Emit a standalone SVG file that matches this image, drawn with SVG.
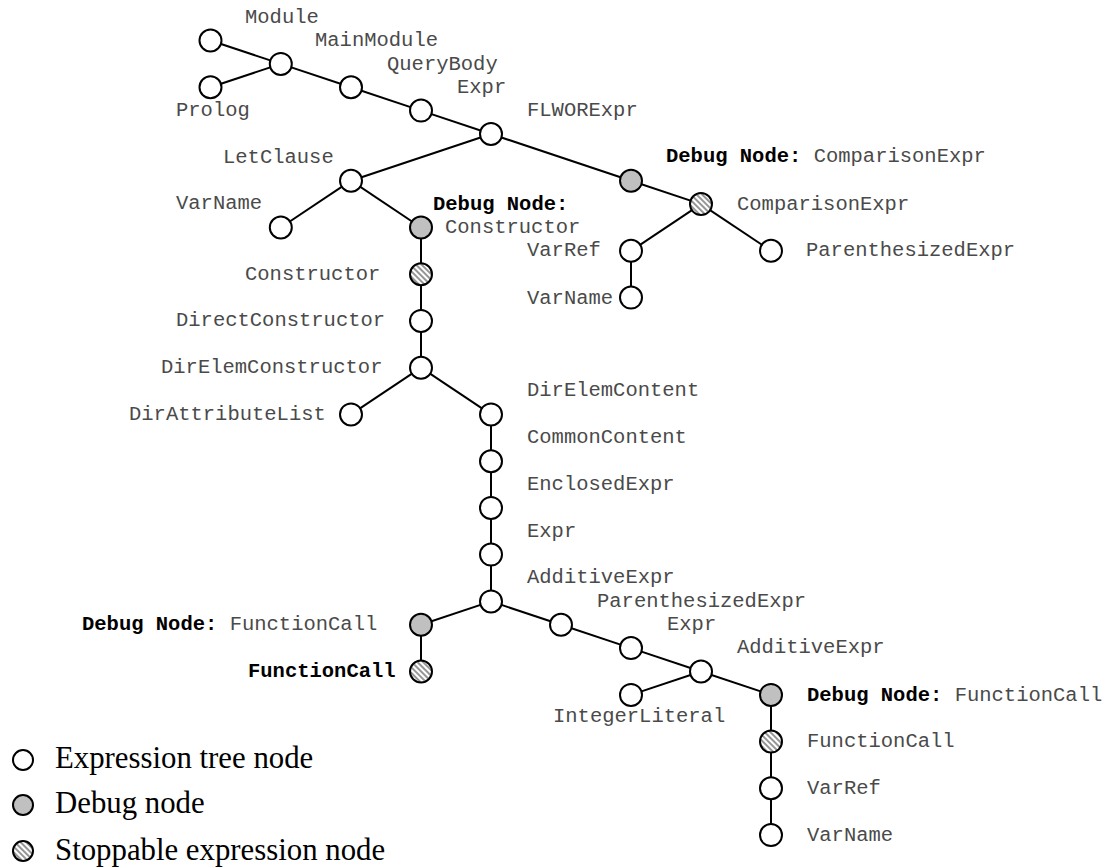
<svg xmlns="http://www.w3.org/2000/svg" width="1110" height="868" viewBox="0 0 1110 868">
  <style>
    .edge { stroke: #000; stroke-width: 2; fill: none; }
    .n { stroke: #000; stroke-width: 2; }
    .expr { fill: #fff; }
    .dbg { fill: #c0c0c0; }
    .stop { fill: url(#hatch); }
    .lbl { font-family: "Liberation Mono", "Courier New", monospace; font-size: 20.5px; fill: #4a4a4a; }
    .b { font-weight: bold; fill: #000; }
    .legend { font-family: "Liberation Serif", "Times New Roman", serif; font-size: 30.8px; fill: #000; }
  </style>
  <defs>
    <pattern id="hatch" patternUnits="userSpaceOnUse" width="4" height="4" patternTransform="rotate(45)">
      <rect width="4" height="4" fill="#fff"/>
      <line x1="0" y1="1" x2="4" y2="1" stroke="#8a8a8a" stroke-width="1.8"/>
    </pattern>
  </defs>

  <rect width="1110" height="868" fill="#fff"/>

  <!-- connectors -->
  <g id="connectors" class="edge">
    <line x1="210.5" y1="40.5" x2="280.8" y2="63.9"/>
    <line x1="210.5" y1="87.2" x2="280.8" y2="63.9"/>
    <line x1="280.8" y1="63.9" x2="351" y2="87.2"/>
    <line x1="351" y1="87.2" x2="421" y2="110.6"/>
    <line x1="421" y1="110.6" x2="491" y2="134"/>
    <line x1="491" y1="134" x2="351" y2="180.7"/>
    <line x1="491" y1="134" x2="631" y2="180.7"/>
    <line x1="351" y1="180.7" x2="280.8" y2="227.5"/>
    <line x1="351" y1="180.7" x2="421" y2="227.5"/>
    <line x1="631" y1="180.7" x2="701" y2="204.1"/>
    <line x1="701" y1="204.1" x2="631" y2="250.8"/>
    <line x1="701" y1="204.1" x2="771" y2="250.8"/>
    <line x1="631" y1="250.8" x2="631" y2="297.6"/>
    <line x1="421" y1="227.5" x2="421" y2="367.7"/>
    <line x1="421" y1="367.7" x2="351" y2="414.4"/>
    <line x1="421" y1="367.7" x2="491" y2="414.4"/>
    <line x1="491" y1="414.4" x2="491" y2="601.4"/>
    <line x1="491" y1="601.4" x2="421" y2="624.8"/>
    <line x1="421" y1="624.8" x2="421" y2="671.5"/>
    <line x1="491" y1="601.4" x2="561" y2="624.8"/>
    <line x1="561" y1="624.8" x2="631" y2="648.1"/>
    <line x1="631" y1="648.1" x2="701" y2="671.5"/>
    <line x1="701" y1="671.5" x2="631" y2="694.9"/>
    <line x1="701" y1="671.5" x2="771" y2="694.9"/>
    <line x1="771" y1="694.9" x2="771" y2="835.1"/>
  </g>

  <!-- tree nodes -->
  <g id="n-module"><circle class="n expr" cx="210.5" cy="40.5" r="11"/><text class="lbl" x="245" y="22.5">Module</text></g>
  <g id="n-prolog"><circle class="n expr" cx="210.5" cy="87.2" r="11"/><text class="lbl" x="176" y="116">Prolog</text></g>
  <g id="n-mainmodule"><circle class="n expr" cx="280.8" cy="63.9" r="11"/><text class="lbl" x="315" y="46">MainModule</text></g>
  <g id="n-querybody"><circle class="n expr" cx="351" cy="87.2" r="11"/><text class="lbl" x="387" y="70">QueryBody</text></g>
  <g id="n-expr1"><circle class="n expr" cx="421" cy="110.6" r="11"/><text class="lbl" x="457" y="93">Expr</text></g>
  <g id="n-flwor"><circle class="n expr" cx="491" cy="134" r="11"/><text class="lbl" x="527" y="116">FLWORExpr</text></g>
  <g id="n-letclause"><circle class="n expr" cx="351" cy="180.7" r="11"/><text class="lbl" x="223" y="163">LetClause</text></g>
  <g id="n-varname1"><circle class="n expr" cx="280.8" cy="227.5" r="11"/><text class="lbl" x="176" y="209">VarName</text></g>
  <g id="n-dbg-constructor"><circle class="n dbg" cx="421" cy="227.5" r="11"/><text class="lbl b" x="433" y="210">Debug Node:</text><text class="lbl" x="445" y="233">Constructor</text></g>
  <g id="n-constructor"><circle class="n stop" cx="421" cy="274.2" r="11"/><text class="lbl" x="245" y="280">Constructor</text></g>
  <g id="n-directconstructor"><circle class="n expr" cx="421" cy="320.9" r="11"/><text class="lbl" x="176" y="326">DirectConstructor</text></g>
  <g id="n-direlemconstructor"><circle class="n expr" cx="421" cy="367.7" r="11"/><text class="lbl" x="161" y="373">DirElemConstructor</text></g>
  <g id="n-dirattributelist"><circle class="n expr" cx="351" cy="414.4" r="11"/><text class="lbl" x="129" y="420">DirAttributeList</text></g>
  <g id="n-direlemcontent"><circle class="n expr" cx="491" cy="414.4" r="11"/><text class="lbl" x="527" y="396">DirElemContent</text></g>
  <g id="n-commoncontent"><circle class="n expr" cx="491" cy="461.2" r="11"/><text class="lbl" x="527" y="443">CommonContent</text></g>
  <g id="n-enclosedexpr"><circle class="n expr" cx="491" cy="507.9" r="11"/><text class="lbl" x="527" y="490">EnclosedExpr</text></g>
  <g id="n-expr2"><circle class="n expr" cx="491" cy="554.6" r="11"/><text class="lbl" x="527" y="537">Expr</text></g>
  <g id="n-additive1"><circle class="n expr" cx="491" cy="601.4" r="11"/><text class="lbl" x="527" y="583">AdditiveExpr</text></g>
  <g id="n-dbg-funccall1"><circle class="n dbg" cx="421" cy="624.8" r="11"/><text class="lbl" x="82" y="630"><tspan class="b">Debug Node:</tspan> FunctionCall</text></g>
  <g id="n-funccall1"><circle class="n stop" cx="421" cy="671.5" r="11"/><text class="lbl b" x="248" y="677">FunctionCall</text></g>
  <g id="n-paren1"><circle class="n expr" cx="561" cy="624.8" r="11"/><text class="lbl" x="597" y="607">ParenthesizedExpr</text></g>
  <g id="n-expr3"><circle class="n expr" cx="631" cy="648.1" r="11"/><text class="lbl" x="667" y="630">Expr</text></g>
  <g id="n-additive2"><circle class="n expr" cx="701" cy="671.5" r="11"/><text class="lbl" x="737" y="653">AdditiveExpr</text></g>
  <g id="n-integerliteral"><circle class="n expr" cx="631" cy="694.9" r="11"/><text class="lbl" x="553" y="722">IntegerLiteral</text></g>
  <g id="n-dbg-funccall2"><circle class="n dbg" cx="771" cy="694.9" r="11"/><text class="lbl" x="807" y="701"><tspan class="b">Debug Node:</tspan> FunctionCall</text></g>
  <g id="n-funccall2"><circle class="n stop" cx="771" cy="741.6" r="11"/><text class="lbl" x="807" y="747">FunctionCall</text></g>
  <g id="n-varref2"><circle class="n expr" cx="771" cy="788.3" r="11"/><text class="lbl" x="807" y="794">VarRef</text></g>
  <g id="n-varname3"><circle class="n expr" cx="771" cy="835.1" r="11"/><text class="lbl" x="807" y="841">VarName</text></g>
  <g id="n-dbg-comparison"><circle class="n dbg" cx="631" cy="180.7" r="11"/><text class="lbl" x="666" y="162"><tspan class="b">Debug Node:</tspan> ComparisonExpr</text></g>
  <g id="n-comparison"><circle class="n stop" cx="701" cy="204.1" r="11"/><text class="lbl" x="737" y="210">ComparisonExpr</text></g>
  <g id="n-varref1"><circle class="n expr" cx="631" cy="250.8" r="11"/><text class="lbl" x="527" y="256">VarRef</text></g>
  <g id="n-varname2"><circle class="n expr" cx="631" cy="297.6" r="11"/><text class="lbl" x="527" y="304">VarName</text></g>
  <g id="n-paren0"><circle class="n expr" cx="771" cy="250.8" r="11"/><text class="lbl" x="806" y="256">ParenthesizedExpr</text></g>

  <!-- legend -->
  <g id="legend">
    <circle class="n expr" cx="23" cy="760" r="10"/>
    <text class="legend" x="55" y="768">Expression tree node</text>
    <circle class="n dbg" cx="23" cy="805" r="10"/>
    <text class="legend" x="55" y="813">Debug node</text>
    <circle class="n stop" cx="23" cy="851" r="10"/>
    <text class="legend" x="55" y="860">Stoppable expression node</text>
  </g>
</svg>
